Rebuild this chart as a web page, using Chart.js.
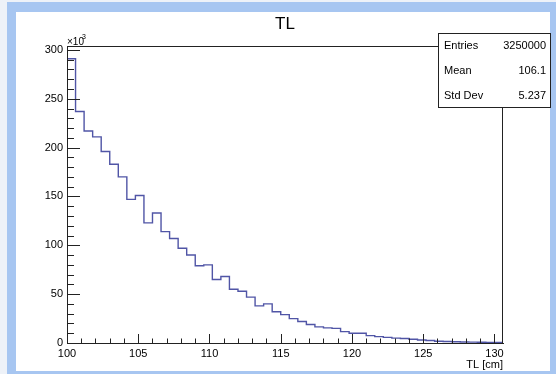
<!DOCTYPE html>
<html lang="en">
<head>
<meta charset="UTF-8">
<title>TL</title>
<script src="https://cdn.jsdelivr.net/npm/chart.js@4/dist/chart.umd.min.js"></script>
<style>
  body { margin: 0; width: 556px; height: 374px; background: #eef2f8; position: relative; overflow: hidden; }
  #border { position: absolute; left: 7px; top: 2px; width: 549px; height: 372px; background: #a7c6f1; }
  #pad { position: absolute; left: 16px; top: 12px; width: 534px; height: 359px; background: #fff; }
  #chart { position: absolute; left: 0; top: 0; }
</style>
</head>
<body>
<div id="border"></div>
<div id="pad"></div>
<canvas id="chart" width="556" height="374"></canvas>
<script>
// histogram TL, 51 bins of 0.6 cm starting at 100 cm, counts in thousands
const xMin = 100;
const binWidth = 0.6;
const counts = [
  291, 237, 217, 211, 196, 183, 170, 147, 151, 123,
  133, 114, 107, 97, 90, 79, 80, 65, 68, 55,
  53, 47, 38, 40, 32, 29, 25, 22, 19, 16.5,
  15.5, 15, 11.6, 10, 10, 7.5, 6.5, 5.8, 5.0, 4.6,
  3.8, 3.0, 2.5, 1.8, 1.5, 1.3, 1.1, 0.9, 0.8, 0.6,
  0.5
];
const xTickValues = [100, 105, 110, 115, 120, 125, 130];
const yTickValues = [0, 50, 100, 150, 200, 250, 300];
const statNames = ['Entries', 'Mean', 'Std Dev'];
const statValues = ['3250000', '106.1', '5.237'];

const FONT = '"Liberation Sans", Arial, Helvetica, sans-serif';

// a point at each bin's left edge, plus the closing right edge.
// chart.js 'before' step goes across at the old y first, then up/down,
// so each bin's level runs from its left edge to the next one
const points = [{ x: xMin, y: 0 }];
counts.forEach((c, i) => {
  points.push({ x: xMin + i * binWidth, y: c });
});
points.push({ x: xMin + counts.length * binWidth, y: counts[counts.length - 1] });

const rootDecor = {
  id: 'rootDecor',
  afterDraw(chart) {
    const ctx = chart.ctx;
    const a = chart.chartArea;
    const xs = chart.scales.x, ys = chart.scales.y;
    ctx.save();
    ctx.strokeStyle = '#222';
    ctx.lineWidth = 1;
    // frame
    ctx.strokeRect(Math.round(a.left) + 0.5, Math.round(a.top) + 0.5,
      Math.round(a.right - a.left) - 1, Math.round(a.bottom - a.top));
    // ticks pointing inside, ROOT style
    ctx.beginPath();
    for (let v = 0; v <= 300; v += 10) {
      const y = Math.round(ys.getPixelForValue(v)) + 0.5;
      const len = v % 50 === 0 ? 13 : 7;
      ctx.moveTo(a.left, y);
      ctx.lineTo(a.left + len, y);
    }
    for (let v = 100; v <= 130; v += 1) {
      const x = Math.round(xs.getPixelForValue(v)) + 0.5;
      const len = v % 5 === 0 ? 9 : 4.5;
      ctx.moveTo(x, a.bottom);
      ctx.lineTo(x, a.bottom - len);
    }
    ctx.stroke();

    ctx.fillStyle = '#000';
    // title
    ctx.font = '17px ' + FONT;
    ctx.textAlign = 'center';
    ctx.textBaseline = 'middle';
    ctx.fillText('TL', 285, 24);
    // exponent
    ctx.font = '10px ' + FONT;
    ctx.textAlign = 'left';
    ctx.textBaseline = 'alphabetic';
    ctx.fillText('\u00d710', 67, 45);
    ctx.font = '7px ' + FONT;
    ctx.fillText('3', 82, 39);
    // axis title
    ctx.font = '11px ' + FONT;
    ctx.textAlign = 'right';
    ctx.textBaseline = 'middle';
    ctx.fillText('TL [cm]', a.right, 365);

    // stats box
    const bx = 438, by = 33, bw = 112, bh = 74;
    ctx.fillStyle = '#fff';
    ctx.fillRect(bx, by, bw, bh);
    ctx.strokeRect(bx + 0.5, by + 0.5, bw, bh);
    ctx.fillStyle = '#000';
    ctx.font = '11px ' + FONT;
    statNames.forEach((n, i) => {
      const y = 46 + i * 25;
      ctx.textAlign = 'left';
      ctx.fillText(n, bx + 6, y);
      ctx.textAlign = 'right';
      ctx.fillText(statValues[i], bx + bw - 4, y);
    });
    ctx.restore();
  }
};

new Chart(document.getElementById('chart'), {
  type: 'line',
  data: {
    datasets: [{
      data: points,
      stepped: 'before',
      borderColor: '#5055a6',
      borderWidth: 1.4,
      pointRadius: 0,
      fill: false
    }]
  },
  options: {
    responsive: false,
    animation: false,
    layout: { padding: { left: 0, top: 46, right: 53, bottom: 0 } },
    plugins: { legend: { display: false }, tooltip: { enabled: false }, title: { display: false } },
    scales: {
      x: {
        type: 'linear',
        min: 100,
        max: 130.6,
        afterFit(s) { s.height = 31; },
        afterBuildTicks(s) { s.ticks = xTickValues.map(v => ({ value: v })); },
        grid: { display: false, drawTicks: false },
        border: { display: true, color: '#222', width: 1 },
        ticks: { color: '#000', font: { family: FONT, size: 11 }, padding: 4, maxRotation: 0, autoSkip: false }
      },
      y: {
        min: 0,
        max: 304,
        afterFit(s) { s.width = 67; },
        afterBuildTicks(s) { s.ticks = yTickValues.map(v => ({ value: v })); },
        grid: { display: false, drawTicks: false },
        border: { display: true, color: '#222', width: 1 },
        ticks: { color: '#000', font: { family: FONT, size: 11 }, padding: 4 }
      }
    }
  },
  plugins: [rootDecor]
});
</script>
</body>
</html>
